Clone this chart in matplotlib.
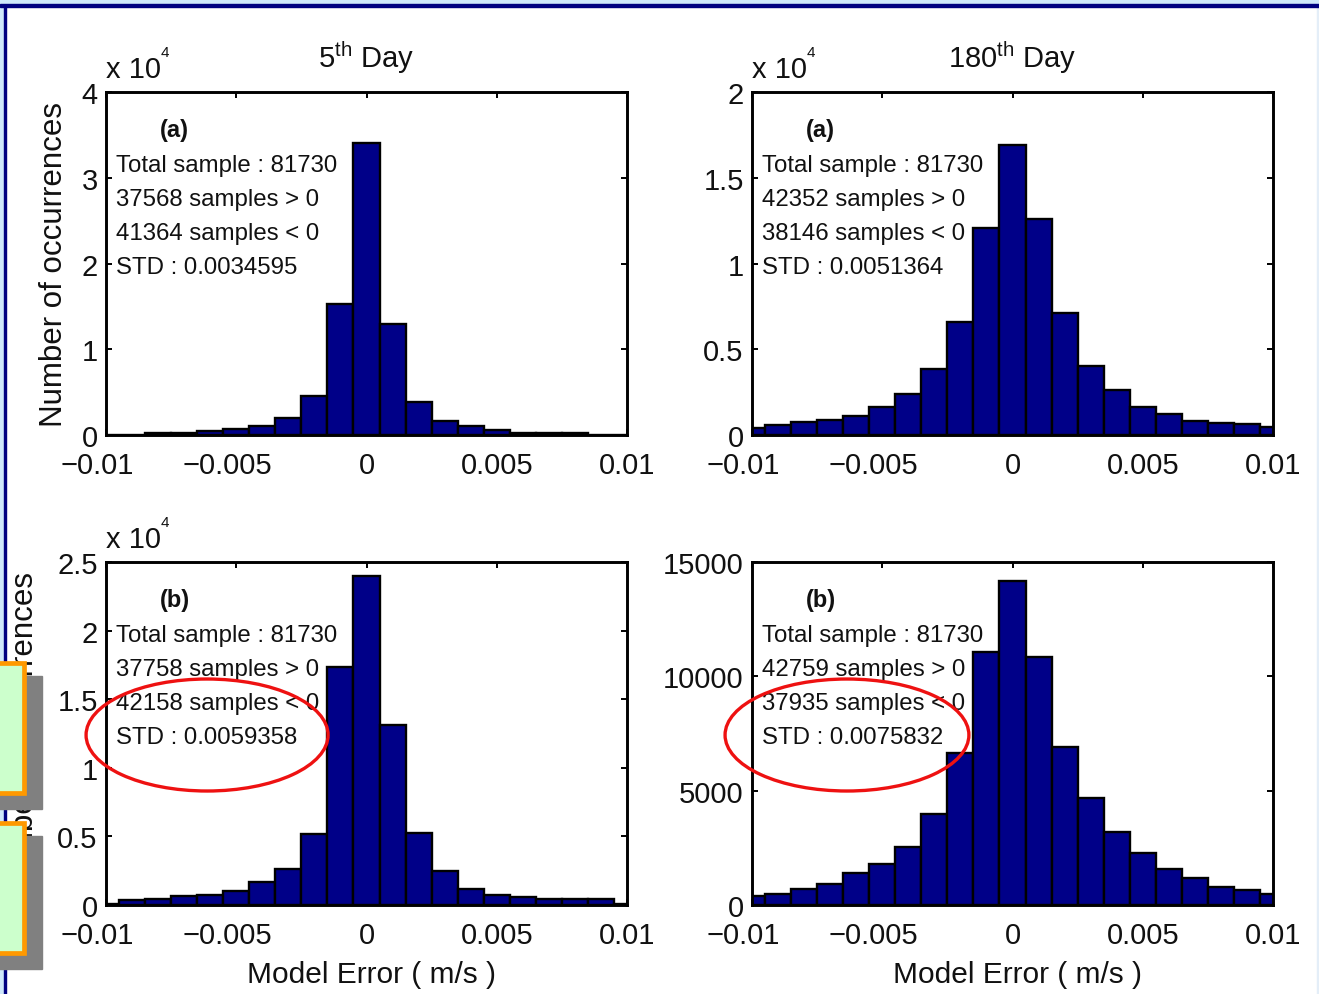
import matplotlib
matplotlib.use('Agg')
import matplotlib.pyplot as plt
from matplotlib.patches import Rectangle, Ellipse
from matplotlib.transforms import blended_transform_factory, offset_copy

plt.rcParams['font.family'] = ['Liberation Sans', 'DejaVu Sans']
plt.rcParams['mathtext.fontset'] = 'custom'
plt.rcParams['mathtext.rm'] = 'Liberation Sans'
plt.rcParams['mathtext.it'] = 'Liberation Sans'
plt.rcParams['mathtext.bf'] = 'Liberation Sans:bold'
plt.rcParams['mathtext.default'] = 'regular'

# histogram bin centres (model error, m/s)
bin_centers = [-0.010, -0.009, -0.008, -0.007, -0.006, -0.005, -0.004,
               -0.003, -0.002, -0.001, 0.000, 0.001, 0.002, 0.003,
               0.004, 0.005, 0.006, 0.007, 0.008, 0.009, 0.010]

# number of occurrences per bin
day5_a = [50, 50, 250, 250, 500, 700, 1100, 2000, 4500, 15300, 34100,
          12900, 3800, 1600, 1000, 600, 250, 250, 250, 50, 50]
day180_a = [410, 560, 750, 850, 1100, 1630, 2400, 3820, 6570, 12050, 16900,
            12580, 7090, 4050, 2600, 1630, 1240, 810, 720, 620, 460]
day5_b = [50, 350, 450, 650, 750, 1000, 1650, 2650, 5150, 17350, 23950,
          13150, 5250, 2450, 1150, 700, 600, 450, 450, 450, 50]
day180_b = [390, 500, 720, 900, 1380, 1780, 2530, 3990, 6640, 11070, 14160,
            10830, 6930, 4700, 3190, 2260, 1560, 1160, 800, 640, 490]

x_ticks = [-0.01, -0.005, 0, 0.005, 0.01]
x_tick_labels = ['\u22120.01', '\u22120.005', '0', '0.005', '0.01']

y_ticks_5a = [0, 10000, 20000, 30000, 40000]
y_labels_5a = ['0', '1', '2', '3', '4']
y_ticks_180a = [0, 5000, 10000, 15000, 20000]
y_labels_180a = ['0', '0.5', '1', '1.5', '2']
y_ticks_5b = [0, 5000, 10000, 15000, 20000, 25000]
y_labels_5b = ['0', '0.5', '1', '1.5', '2', '2.5']
y_ticks_180b = [0, 5000, 10000, 15000]
y_labels_180b = ['0', '5000', '10000', '15000']

stats_5a = ['Total sample : 81730', '37568 samples > 0',
            '41364 samples < 0', 'STD : 0.0034595']
stats_180a = ['Total sample : 81730', '42352 samples > 0',
              '38146 samples < 0', 'STD : 0.0051364']
stats_5b = ['Total sample : 81730', '37758 samples > 0',
            '42158 samples < 0', 'STD : 0.0059358']
stats_180b = ['Total sample : 81730', '42759 samples > 0',
              '37935 samples < 0', 'STD : 0.0075832']

W, H = 1319, 995
NAVY = '#000088'
INK = '#111111'

fig = plt.figure(figsize=(W / 100, H / 100), dpi=100, facecolor='white')


def fig_box(left, top, right, bottom):
    return [left / W, 1 - bottom / H, (right - left) / W, (bottom - top) / H]


def px_rect(x0, y0, x1, y1, **kw):
    return Rectangle((x0 / W, 1 - y1 / H), (x1 - x0) / W, (y1 - y0) / H,
                     transform=fig.transFigure, **kw)


def draw_hist(ax, counts, ymax, yticks, ylabels, panel, stats):
    ax.bar(bin_centers, counts, width=0.001, color=NAVY, edgecolor='black',
           linewidth=1.7, zorder=2)
    ax.set_xlim(-0.01, 0.01)
    ax.set_ylim(0, ymax)
    ax.set_xticks(x_ticks)
    ax.set_yticks(yticks)
    ax.set_yticklabels(ylabels)
    ax.tick_params(direction='in', top=True, right=True, length=4.5,
                   width=1.4, labelsize=21, pad=6, labelbottom=False,
                   labelcolor=INK)
    for sp in ax.spines.values():
        sp.set_linewidth(2.1)
        sp.set_zorder(3)

    # tick labels below the axis; minus signs hang to the left of the number
    trans = blended_transform_factory(ax.transData, ax.transAxes)
    for v, s in zip(x_ticks, x_tick_labels):
        t = trans if v >= 0 else offset_copy(trans, fig=fig, x=-6.2, units='points')
        ax.text(v, -0.1108, s, transform=t, ha='center', va='baseline',
                fontsize=21, color=INK)

    ax.text(0.132, 0.872, panel, transform=ax.transAxes, ha='center',
            va='baseline', fontsize=17, fontweight='bold', color=INK)
    for i, line in enumerate(stats):
        ax.text(0.02, 0.7697 - i * 0.0991, line, transform=ax.transAxes,
                ha='left', va='baseline', fontsize=17.3, color=INK)


def exponent_label(ax):
    base = ax.text(0.0, 1.0437, 'x 10', transform=ax.transAxes, ha='left',
                   va='baseline', fontsize=21, color=INK)
    ax.annotate('4', xy=(1.0, 0.84), xycoords=base, ha='left', va='bottom',
                fontsize=11, color=INK)


ax_5a = fig.add_axes(fig_box(106, 93, 627, 436))
ax_180a = fig.add_axes(fig_box(752, 93, 1273, 436))
ax_5b = fig.add_axes(fig_box(106, 563, 627, 906))
ax_180b = fig.add_axes(fig_box(752, 563, 1273, 906))

draw_hist(ax_5a, day5_a, 40000, y_ticks_5a, y_labels_5a, '(a)', stats_5a)
draw_hist(ax_180a, day180_a, 20000, y_ticks_180a, y_labels_180a, '(a)', stats_180a)
draw_hist(ax_5b, day5_b, 25000, y_ticks_5b, y_labels_5b, '(b)', stats_5b)
draw_hist(ax_180b, day180_b, 15000, y_ticks_180b, y_labels_180b, '(b)', stats_180b)

# column titles and exponent labels
ax_5a.text(0.5, 1.073, r'5$^{th}$ Day', transform=ax_5a.transAxes,
           ha='center', va='baseline', fontsize=21, color=INK)
ax_180a.text(0.5, 1.073, r'180$^{th}$ Day', transform=ax_180a.transAxes,
             ha='center', va='baseline', fontsize=21, color=INK)
for ax in (ax_5a, ax_180a, ax_5b):
    exponent_label(ax)

# axis labels
ax_5a.set_ylabel('Number of occurrences', fontsize=22.5, color=INK, va='baseline')
ax_5a.yaxis.set_label_coords(-0.0845, 0.5)
ax_5b.set_ylabel('Number of occurrences', fontsize=22.5, color=INK, va='baseline')
ax_5b.yaxis.set_label_coords(-0.140, 0.5)
for ax in (ax_5b, ax_180b):
    ax.set_xlabel('Model Error ( m/s )', fontsize=21.5, color=INK, va='baseline')
    ax.xaxis.set_label_coords(0.51, -0.2245)

# red rings round the STD values
ax_5b.add_patch(Ellipse((0.194, 0.4956), 0.4645, 0.3265, transform=ax_5b.transAxes,
                        fill=False, edgecolor='#ee1111', linewidth=2.4,
                        clip_on=False, zorder=6))
ax_180b.add_patch(Ellipse((0.1823, 0.4956), 0.468, 0.3265, transform=ax_180b.transAxes,
                          fill=False, edgecolor='#ee1111', linewidth=2.4,
                          clip_on=False, zorder=6))

# slide frame: light blue margin with a navy rule
fig.add_artist(px_rect(0, 0, W, 5, color='#cfe8fb', zorder=1))
fig.add_artist(px_rect(0, 5, W, 7.5, color='#000080', zorder=2))
fig.add_artist(px_rect(0, 7.5, 3.5, H, color='#cfe8fb', zorder=1))
fig.add_artist(px_rect(3.5, 7.5, 6, H, color='#000080', zorder=2))
fig.add_artist(px_rect(1317, 7.5, W, H, color='#e4eef8', zorder=1))

# green slide buttons with grey drop shadows at the left edge
for top in (662, 822):
    fig.add_artist(px_rect(-10, top + 15, 42, top + 148, color='#808080', zorder=10))
    fig.add_artist(px_rect(-20, top + 2.35, 23.65, top + 131.65,
                           facecolor='#ccffcc', edgecolor='#ff9900',
                           linewidth=3.4, zorder=11))

fig.savefig('out.png', dpi=100)
